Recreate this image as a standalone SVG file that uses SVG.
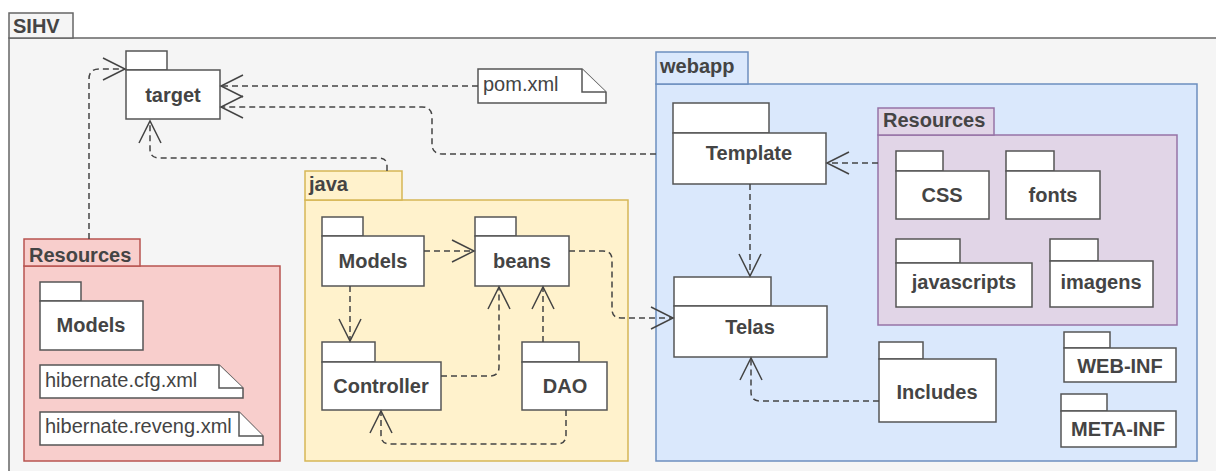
<svg xmlns="http://www.w3.org/2000/svg" width="1216" height="471" viewBox="0 0 1216 471">
  <style>
    text { font-family: "Liberation Sans", Arial, sans-serif; font-size: 20px; fill: #444444; }
    .b { font-weight: bold; }
    .c { text-anchor: middle; }
    .pkg { fill: #ffffff; stroke: #555555; stroke-width: 1.5; }
    .note { fill: #ffffff; stroke: #555555; stroke-width: 1.5; stroke-linejoin: miter; }
    .edge { fill: none; stroke: #444444; stroke-width: 1.5; stroke-dasharray: 6 4; marker-end: url(#open); }
  </style>
  <defs>
    <marker id="open" viewBox="-25 -13 27 26" refX="0" refY="0" markerWidth="27" markerHeight="26" markerUnits="userSpaceOnUse" orient="auto">
      <path d="M-22,-11 L0,0 L-22,11" fill="none" stroke="#444444" stroke-width="1.5" stroke-dasharray="none"/>
    </marker>
  </defs>

  <rect width="1216" height="471" fill="#ffffff"/>

  <!-- SIHV container -->
  <g id="sihv">
    <rect x="9" y="38" width="1220" height="450" fill="#f5f5f5" stroke="#666666" stroke-width="1.5"/>
    <rect x="9" y="13" width="64" height="25" fill="#f5f5f5" stroke="#666666" stroke-width="1.5"/>
    <text class="b" x="13" y="33">SIHV</text>
  </g>

  <!-- target -->
  <g id="target">
    <rect class="pkg" x="126" y="51" width="41" height="19"/>
    <rect class="pkg" x="126" y="70" width="94" height="49"/>
    <text class="b c" x="173" y="102">target</text>
  </g>

  <!-- pom.xml note -->
  <g id="pom">
    <path class="note" d="M478,69 L582,69 L606,92 L606,103 L478,103 Z"/>
    <path class="note" d="M582,69 L582,92 L606,92" fill="none"/>
    <text x="483" y="91">pom.xml</text>
  </g>

  <!-- Resources (red) -->
  <g id="res-main">
    <rect x="24" y="266" width="256" height="195" fill="#f8cecc" stroke="#b85450" stroke-width="1.5"/>
    <rect x="24" y="239" width="116" height="27" fill="#f8cecc" stroke="#b85450" stroke-width="1.5"/>
    <text class="b" x="29" y="262">Resources</text>
  </g>
  <g id="res-models">
    <rect class="pkg" x="40" y="282" width="41" height="19"/>
    <rect class="pkg" x="40" y="301" width="103" height="49"/>
    <text class="b c" x="91" y="332">Models</text>
  </g>
  <g id="hib-cfg">
    <path class="note" d="M40,365 L219,365 L243,388 L243,398 L40,398 Z"/>
    <path class="note" d="M219,365 L219,388 L243,388" fill="none"/>
    <text x="45" y="387">hibernate.cfg.xml</text>
  </g>
  <g id="hib-reveng">
    <path class="note" d="M40,412 L239,412 L263,436 L263,445 L40,445 Z"/>
    <path class="note" d="M239,412 L239,436 L263,436" fill="none"/>
    <text x="45" y="433">hibernate.reveng.xml</text>
  </g>

  <!-- java -->
  <g id="java">
    <rect x="305" y="200" width="323" height="261" fill="#fff2cc" stroke="#d6b656" stroke-width="1.5"/>
    <rect x="305" y="171" width="97" height="29" fill="#fff2cc" stroke="#d6b656" stroke-width="1.5"/>
    <text class="b" x="309" y="191">java</text>
  </g>
  <g id="java-models">
    <rect class="pkg" x="322" y="217" width="41" height="19"/>
    <rect class="pkg" x="322" y="236" width="102" height="50"/>
    <text class="b c" x="373" y="268">Models</text>
  </g>
  <g id="beans">
    <rect class="pkg" x="475" y="217" width="41" height="19"/>
    <rect class="pkg" x="475" y="236" width="94" height="50"/>
    <text class="b c" x="522" y="268">beans</text>
  </g>
  <g id="controller">
    <rect class="pkg" x="322" y="342" width="53" height="20"/>
    <rect class="pkg" x="322" y="362" width="119" height="48"/>
    <text class="b c" x="381" y="393">Controller</text>
  </g>
  <g id="dao">
    <rect class="pkg" x="522" y="342" width="57" height="20"/>
    <rect class="pkg" x="522" y="362" width="85" height="48"/>
    <text class="b c" x="565" y="393">DAO</text>
  </g>

  <!-- webapp -->
  <g id="webapp">
    <rect x="656" y="84" width="541" height="377" fill="#dae8fc" stroke="#6c8ebf" stroke-width="1.5"/>
    <rect x="656" y="52" width="92" height="32" fill="#dae8fc" stroke="#6c8ebf" stroke-width="1.5"/>
    <text class="b" x="660" y="73">webapp</text>
  </g>
  <g id="template">
    <rect class="pkg" x="673" y="103" width="96" height="30"/>
    <rect class="pkg" x="673" y="133" width="153" height="51"/>
    <text class="b c" x="749" y="160">Template</text>
  </g>
  <g id="res-web">
    <rect x="878" y="135" width="299" height="190" fill="#e1d5e7" stroke="#9673a6" stroke-width="1.5"/>
    <rect x="878" y="108" width="116" height="27" fill="#e1d5e7" stroke="#9673a6" stroke-width="1.5"/>
    <text class="b" x="883" y="127">Resources</text>
  </g>
  <g id="css">
    <rect class="pkg" x="896" y="151" width="47" height="20"/>
    <rect class="pkg" x="896" y="171" width="93" height="48"/>
    <text class="b c" x="942" y="202">CSS</text>
  </g>
  <g id="fonts">
    <rect class="pkg" x="1006" y="151" width="48" height="20"/>
    <rect class="pkg" x="1006" y="171" width="94" height="48"/>
    <text class="b c" x="1053" y="202">fonts</text>
  </g>
  <g id="javascripts">
    <rect class="pkg" x="896" y="239" width="64" height="24"/>
    <rect class="pkg" x="896" y="263" width="136" height="44"/>
    <text class="b c" x="964" y="289">javascripts</text>
  </g>
  <g id="imagens">
    <rect class="pkg" x="1050" y="239" width="48" height="22"/>
    <rect class="pkg" x="1050" y="261" width="103" height="46"/>
    <text class="b c" x="1101" y="289">imagens</text>
  </g>
  <g id="telas">
    <rect class="pkg" x="674" y="277" width="97" height="29"/>
    <rect class="pkg" x="674" y="306" width="153" height="51"/>
    <text class="b c" x="750" y="334">Telas</text>
  </g>
  <g id="includes">
    <rect class="pkg" x="879" y="342" width="44" height="17"/>
    <rect class="pkg" x="879" y="359" width="117" height="63"/>
    <text class="b c" x="937" y="399">Includes</text>
  </g>
  <g id="web-inf">
    <rect class="pkg" x="1064" y="332" width="46" height="16"/>
    <rect class="pkg" x="1064" y="348" width="112" height="34"/>
    <text class="b c" x="1120" y="373">WEB-INF</text>
  </g>
  <g id="meta-inf">
    <rect class="pkg" x="1061" y="394" width="46" height="17"/>
    <rect class="pkg" x="1061" y="411" width="115" height="36"/>
    <text class="b c" x="1118" y="436">META-INF</text>
  </g>

  <!-- dependency connectors -->
  <g id="connectors">
    <path class="edge" d="M478,86 L221,86"/>
    <path class="edge" d="M656,154 L442,154 Q432,154 432,144 L432,117 Q432,107 422,107 L221,107"/>
    <path class="edge" d="M89,239 L89,79 Q89,69 99,69 L125,69"/>
    <path class="edge" d="M387,171 L387,166 Q387,158 379,158 L159,158 Q150,158 150,149 L150,121"/>
    <path class="edge" d="M424,251 L474,251"/>
    <path class="edge" d="M350,286 L350,341"/>
    <path class="edge" d="M441,376 L490,376 Q499,376 499,367 L499,287"/>
    <path class="edge" d="M543,342 L543,287"/>
    <path class="edge" d="M566,410 L566,435 Q566,444 557,444 L390,444 Q381,444 381,435 L381,411"/>
    <path class="edge" d="M569,251 L603,251 Q612,251 612,260 L612,309 Q612,318 621,318 L673,318"/>
    <path class="edge" d="M750,184 L750,276"/>
    <path class="edge" d="M879,401 L760,401 Q751,401 751,392 L751,358"/>
    <path class="edge" d="M878,163 L827,163"/>
  </g>
</svg>
